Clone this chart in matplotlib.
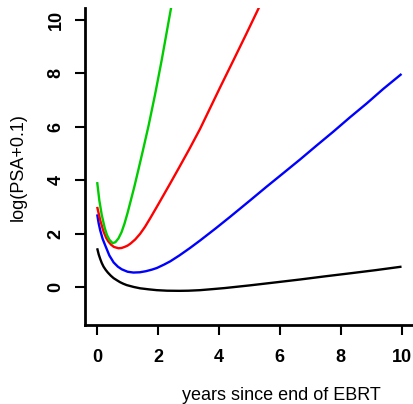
import numpy as np
import matplotlib
matplotlib.use("Agg")
import matplotlib.pyplot as plt

plt.rcParams['font.family'] = ['Liberation Sans', 'DejaVu Sans']

x_black = [0, 0.05, 0.1, 0.15, 0.21, 0.28, 0.35, 0.45, 0.54, 0.65, 0.75, 0.86, 0.97, 1.2, 1.41, 1.7,
           1.96, 2.3, 2.7, 3.0, 3.38, 3.8, 4.2, 5.02, 5.85, 6.67, 7.5, 8.3, 9.15, 10]
y_black = [1.45, 1.22, 1.05, 0.9, 0.76, 0.64, 0.54, 0.42, 0.33, 0.25, 0.18, 0.12, 0.07, 0.0, -0.05, -0.09,
           -0.12, -0.14, -0.145, -0.14, -0.12, -0.08, -0.04, 0.06, 0.17, 0.28, 0.40, 0.51, 0.63, 0.76]

x_blue = [0, 0.05, 0.1, 0.18, 0.26, 0.4, 0.54, 0.68, 0.81, 1.0, 1.19, 1.4, 1.6, 1.8, 1.96, 2.2, 2.4,
          2.7, 3.05, 3.38, 3.9, 4.37, 5.0, 5.57, 6.1, 6.67, 7.2, 7.76, 8.3, 8.86, 9.4, 10]
y_blue = [2.72, 2.38, 2.12, 1.8, 1.57, 1.18, 0.92, 0.76, 0.66, 0.57, 0.54, 0.55, 0.59, 0.65, 0.71, 0.84, 0.96,
          1.18, 1.46, 1.74, 2.2, 2.63, 3.22, 3.76, 4.25, 4.78, 5.29, 5.82, 6.35, 6.88, 7.42, 7.98]

x_red = [0, 0.1, 0.21, 0.3, 0.37, 0.46, 0.55, 0.7, 0.8, 0.9, 1.0, 1.1, 1.25, 1.41, 1.57, 1.74, 2.01,
         2.4, 2.7, 3.03, 3.38, 3.71, 4.04, 4.48, 4.9, 5.35]
y_red = [3.0, 2.5, 2.07, 1.83, 1.70, 1.58, 1.50, 1.45, 1.46, 1.50, 1.55, 1.63, 1.78, 1.99, 2.25, 2.57, 3.1,
         3.88, 4.49, 5.17, 5.92, 6.7, 7.48, 8.5, 9.48, 10.55]

x_green = [0, 0.07, 0.15, 0.25, 0.32, 0.4, 0.51, 0.6, 0.7, 0.8, 0.9, 1.0, 1.1, 1.22, 1.36, 1.5, 1.69,
           1.9, 2.12, 2.43]
y_green = [3.93, 3.25, 2.7, 2.2, 1.95, 1.77, 1.64, 1.68, 1.82, 2.05, 2.38, 2.78, 3.22, 3.75, 4.42, 5.1, 6.05,
           7.2, 8.5, 10.47]

W, H = 414, 404
fig = plt.figure(figsize=(W / 100, H / 100), dpi=100)
ax = fig.add_axes([85 / W, (H - 325.4) / H, (413.7 - 85) / W, (325.4 - 8.3) / H])

for xs, ys, col in [(x_black, y_black, 'black'), (x_blue, y_blue, '#0000FF'),
                    (x_red, y_red, '#FF0000'), (x_green, y_green, '#00CD00')]:
    ax.plot(xs, ys, color=col, lw=1.7, solid_joinstyle='round', solid_capstyle='butt')

ax.set_xlim(-0.4, 10.4)
ax.set_ylim(-1.44, 10.44)
ax.set_xticks([0, 2, 4, 6, 8, 10])
ax.set_yticks([0, 2, 4, 6, 8, 10])

ax.spines['top'].set_visible(False)
ax.spines['right'].set_visible(False)
for s in ['left', 'bottom']:
    ax.spines[s].set_linewidth(2.0)
ax.tick_params(width=1.5, length=7.2, labelsize=13)
ax.tick_params(axis='x', pad=10)
ax.tick_params(axis='y', pad=7.5, labelrotation=90)
for lab in ax.get_xticklabels() + ax.get_yticklabels():
    lab.set_fontweight('bold')
for lab in ax.get_yticklabels():
    lab.set_va('center')

fig.text(281 / W, 1 - 395 / H, 'years since end of EBRT', ha='center', va='center', fontsize=13)
fig.text(18 / W, 1 - 167 / H, 'log(PSA+0.1)', ha='center', va='center', rotation=90, fontsize=13)

fig.savefig('out.png', dpi=100)
